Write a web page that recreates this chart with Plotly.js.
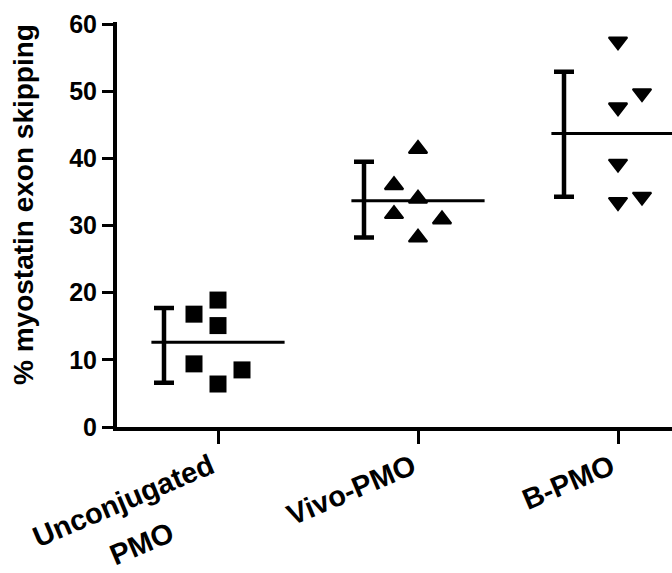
<!DOCTYPE html>
<html>
<head>
<meta charset="utf-8">
<script src="https://cdn.plot.ly/plotly-3.0.1.min.js"></script>
<style>html,body{margin:0;padding:0;background:#fff;}#chart{width:672px;height:573px;}</style>
</head>
<body>
<div id="chart"></div>
<script>
// ---- data ----
var categories = ["Unconjugated<br>PMO", "Vivo-PMO", "B-PMO"];
var unconjugated = [16.8, 18.9, 15.1, 9.4, 6.4, 8.5];
var vivoPMO = [41.4, 36.0, 34.0, 31.7, 30.9, 28.2];
var bPMO = [57.4, 49.7, 47.6, 39.2, 33.5, 34.3];
var means = [12.6, 33.7, 43.7];
var errPlus = [5.1, 5.8, 9.2];
var errMinus = [6.0, 5.5, 9.4];
var yTickVals = [0, 10, 20, 30, 40, 50, 60];
var yTitle = "% myostatin exon skipping";

// ---- layout helpers (positions / styles) ----
var jitterStep = 0.12;
var jitterCols = [[-1, 0, 0, -1, 0, 1], [0, -1, 0, -1, 1, 0], [0, 1, 0, 0, 0, 1]];
var errOffset = -0.27;
var meanHalf = 0.333;
var groups = [unconjugated, vivoPMO, bPMO];
var symbols = ["square", "triangle-up", "triangle-down"];
var FONT = "Liberation Sans, Arial, sans-serif";

var traces = [];
groups.forEach(function (vals, g) {
  traces.push({
    type: "scatter", mode: "markers",
    x: vals.map(function (v, i) { return g + jitterCols[g][i] * jitterStep; }),
    y: vals,
    marker: {symbol: symbols[g], size: g === 0 ? 17 : 16, color: "#000",
             line: {color: "#000", width: g === 0 ? 0 : 2}},
    hoverinfo: "y", showlegend: false
  });
  traces.push({
    type: "scatter", mode: "lines",
    x: [g - meanHalf, g + meanHalf], y: [means[g], means[g]],
    line: {color: "#000", width: 3}, hoverinfo: "skip", showlegend: false
  });
  traces.push({
    type: "scatter", mode: "markers",
    x: [g + errOffset], y: [means[g]],
    marker: {size: 1, color: "rgba(0,0,0,0)"},
    error_y: {type: "data", symmetric: false, array: [errPlus[g]], arrayminus: [errMinus[g]],
              color: "#000", thickness: 4.5, width: 10},
    hoverinfo: "skip", showlegend: false
  });
});

var plotTop = 22, plotBottom = 427, plotLeft = 117;
var plotH = plotBottom - plotTop;

var annotations = categories.map(function (c, g) {
  var multi = c.indexOf("<br>") >= 0;
  var txt = multi
    ? c.split("<br>").map(function (s) { return '<span style="font-size:29px">' + s + "</span>"; }).join("<br>")
    : c;
  return {
    text: "<b>" + txt + "</b>", xref: "x", yref: "paper",
    x: g + (multi ? 0.105 : 0.022), y: (plotBottom - 446) / plotH,
    xanchor: "right", yanchor: "top", textangle: -23, align: "center",
    showarrow: false, font: {family: FONT, size: multi ? 36 : 29, color: "#000"}
  };
});
annotations.push({
  text: "<b>" + yTitle + "</b>", xref: "paper", yref: "paper",
  x: (23 - plotLeft) / 555, y: (plotBottom - 205) / plotH,
  xanchor: "center", yanchor: "middle", textangle: -90,
  showarrow: false, font: {family: FONT, size: 28, color: "#000"}
});

var layout = {
  width: 672, height: 573,
  margin: {l: plotLeft, r: 0, t: plotTop, b: 573 - plotBottom, pad: 0},
  paper_bgcolor: "#fff", plot_bgcolor: "#fff",
  showlegend: false,
  xaxis: {
    range: [-0.505, 2.27], showgrid: false, zeroline: false,
    showline: true, linewidth: 4, linecolor: "#000",
    tickvals: [0, 1, 2], ticktext: ["", "", ""],
    ticks: "outside", ticklen: 13, tickwidth: 3, tickcolor: "#000",
    fixedrange: true
  },
  yaxis: {
    range: [0, 60.3], showgrid: false, zeroline: false,
    showline: true, linewidth: 4, linecolor: "#000",
    tickvals: yTickVals, ticks: "outside", ticklen: 11, tickwidth: 3, tickcolor: "#000",
    tickfont: {family: FONT, size: 25, color: "#000", weight: "bold"},
    ticklabelstandoff: 0,
    fixedrange: true
  },
  annotations: annotations
};

Plotly.newPlot("chart", traces, layout, {displayModeBar: false, staticPlot: true});
</script>
</body>
</html>
